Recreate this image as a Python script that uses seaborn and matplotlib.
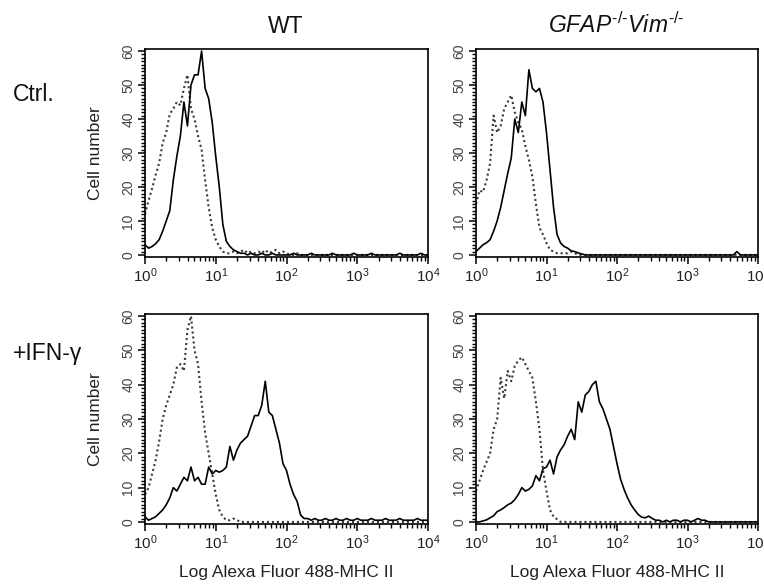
import numpy as np
import pandas as pd
import matplotlib
matplotlib.use("Agg")
import matplotlib.pyplot as plt
import seaborn as sns

# ---------------- data ----------------
# channel positions, log10 of fluorescence (10^0 .. 10^4)
LOG_CH = [0.00, 0.05, 0.10, 0.15, 0.20, 0.25, 0.30, 0.35, 0.40, 0.45,
          0.50, 0.55, 0.60, 0.65, 0.70, 0.75, 0.80, 0.85, 0.90, 0.95,
          1.00, 1.05, 1.10, 1.15, 1.20, 1.25, 1.30, 1.35, 1.40, 1.45,
          1.50, 1.55, 1.60, 1.65, 1.70, 1.75, 1.80, 1.85, 1.90, 1.95,
          2.00, 2.05, 2.10, 2.15, 2.20, 2.25, 2.30, 2.35, 2.40, 2.45,
          2.50, 2.55, 2.60, 2.65, 2.70, 2.75, 2.80, 2.85, 2.90, 2.95,
          3.00, 3.05, 3.10, 3.15, 3.20, 3.25, 3.30, 3.35, 3.40, 3.45,
          3.50, 3.55, 3.60, 3.65, 3.70, 3.75, 3.80, 3.85, 3.90, 3.95,
          4.00]

wt_ctrl_mhc = [3, 2, 2.5, 3.3, 4.5, 7, 10, 13, 22, 29,
               35, 45, 38, 50, 53, 53, 60, 49, 46, 39,
               29, 20, 9, 4, 2.5, 1.5, 1, 0.5, 0.5, 0,
               0.5, 0, 0, 0.5, 0, 0, 0.5, 0, 0, 0,
               0, 0, 0.5, 0, 0, 0, 0, 0.5, 0, 0,
               0, 0, 0, 0.5, 0, 0, 0, 0, 0, 0.5,
               0, 0, 0, 0, 0.5, 0, 0, 0, 0, 0,
               0, 0, 0.5, 0, 0, 0, 0, 0, 0.5, 0,
               0]
wt_ctrl_iso = [12, 16, 19.5, 23.5, 27, 33, 36, 41.5, 43, 45,
               44, 49, 53, 43, 40, 35, 31, 22, 14, 8,
               4.5, 2.5, 1, 0.5, 0.5, 1, 0.5, 1, 1.5, 0.5,
               1, 0.5, 1, 0.5, 1.5, 0.5, 1, 1.5, 0.5, 1,
               0.5, 0, 0, 0.5, 0, 0, 0, 0, 0, 0,
               0, 0, 0, 0, 0, 0, 0, 0, 0, 0,
               0, 0, 0, 0, 0, 0, 0, 0, 0, 0,
               0, 0, 0, 0, 0, 0, 0, 0, 0, 0,
               0]
ko_ctrl_mhc = [1, 2, 3, 3.6, 4.5, 7, 10, 14, 19, 24,
               28.5, 40, 36, 45, 41, 54.5, 49, 48, 49, 45,
               36, 25, 14, 6, 3.5, 2.5, 2, 1.2, 1, 0.6,
               0.3, 0, 0, 0, 0, 0, 0, 0, 0, 0,
               0, 0, 0, 0, 0, 0, 0, 0, 0, 0,
               0, 0, 0, 0, 0, 0, 0, 0, 0, 0,
               0, 0, 0, 0, 0, 0, 0, 0, 0, 0,
               0, 0, 0, 0, 1, 0, 0, 0, 0, 0,
               0]
ko_ctrl_iso = [15, 19, 18.5, 22, 27, 41, 36, 38, 43, 45,
               47, 42, 39, 37, 32, 28, 23, 15, 8, 6,
               3.5, 1.5, 1, 0.5, 0.5, 0.5, 0.5, 1, 0.5, 0,
               0, 0, 0, 0, 0, 0, 0, 0, 0, 0,
               0, 0, 0, 0, 0, 0, 0, 0, 0, 0,
               0, 0, 0, 0, 0, 0, 0, 0, 0, 0,
               0, 0, 0, 0, 0, 0, 0, 0, 0, 0,
               0, 0, 0, 0, 0, 0, 0, 0, 0, 0,
               0]
wt_ifn_mhc = [1.5, 0.5, 1, 1.5, 2.5, 3.5, 5, 7, 10, 9,
              11, 13, 12, 16, 12, 13, 11, 11, 16, 14,
              15, 14.5, 15, 16, 22, 18, 21, 23, 24, 25,
              28, 31, 31, 34, 41, 32, 31, 27, 23, 17,
              15, 11, 8, 6, 2, 1, 1, 0.5, 1, 0.5,
              0.5, 1, 0.5, 0.5, 1, 0.5, 0.5, 1, 0.5, 0.5,
              1, 0.5, 0.5, 0.5, 1, 0.5, 0.5, 0.5, 1, 0.5,
              0.5, 0.5, 1, 0.5, 0.5, 0.5, 0.5, 1, 0.5, 0.5,
              0.5]
wt_ifn_iso = [8, 10, 14, 18, 23.5, 30, 34, 37, 40, 45,
              46, 44, 56, 60, 50, 46, 35, 26, 20, 14,
              8, 3.5, 1.5, 0.5, 0.5, 1, 0.5, 0, 0, 0,
              0, 0, 0, 0, 0, 0, 0, 0, 0, 0,
              0, 0, 0, 0, 0, 0, 0, 0, 0, 0,
              0, 0, 0, 0, 0, 0, 0, 0, 0, 0,
              0, 0, 0, 0, 0, 0, 0, 0, 0, 0,
              0, 0, 0, 0, 0, 0, 0, 0, 0, 0,
              0]
ko_ifn_mhc = [0, 0, 0.3, 0.6, 1.2, 1.8, 3, 3.5, 4.2, 5,
              5.5, 6.5, 8, 10, 9, 9.5, 10.5, 13.5, 12, 15.5,
              16, 18, 14, 19, 21, 22.5, 25, 27, 24, 35,
              32, 37, 38, 40, 41, 35, 33, 30, 27, 22,
              17, 12.5, 9.5, 7, 5, 3.5, 2.2, 1.4, 1.2, 1.7,
              1, 0.5, 0.5, 0, 0.5, 0, 0.5, 0.5, 0, 0.5,
              0.5, 0, 0.5, 1, 0.5, 0.5, 0, 0, 0, 0,
              0, 0, 0, 0, 0, 0, 0, 0, 0, 0,
              0]
ko_ifn_iso = [9, 12, 15, 17.5, 20, 27, 30, 42, 36, 44,
              41, 45.5, 47, 48, 46, 44, 42, 35, 27, 15,
              9, 3.5, 1.5, 0.8, 0, 0, 0, 0, 0, 0,
              0, 0, 0, 0, 0, 0, 0, 0, 0, 0,
              0, 0, 0, 0, 0, 0, 0, 0, 0, 0,
              0, 0, 0, 0, 0, 0, 0, 0, 0, 0,
              0, 0, 0, 0, 0, 0, 0, 0, 0, 0,
              0, 0, 0, 0, 0, 0, 0, 0, 0, 0,
              0]

COL_TITLES = ["WT", r"$\mathit{GFAP}^{\mathit{\text{-/-}}}\mathit{Vim}^{\mathit{\text{-/-}}}$"]
ROW_LABELS = ["Ctrl.", "+IFN-\u03b3"]
Y_TICKS = [0, 10, 20, 30, 40, 50, 60]
X_TICKS = [1, 10, 100, 1000, 10000]
XLABEL = "Log Alexa Fluor 488-MHC II"
YLABEL = "Cell number"

panels = [[(wt_ctrl_mhc, wt_ctrl_iso), (ko_ctrl_mhc, ko_ctrl_iso)],
          [(wt_ifn_mhc, wt_ifn_iso), (ko_ifn_mhc, ko_ifn_iso)]]

# ---------------- style ----------------
sns.set_theme(style="white")
plt.rcParams["font.family"] = ["Liberation Sans", "DejaVu Sans"]
plt.rcParams["mathtext.fontset"] = "custom"
plt.rcParams["mathtext.rm"] = "Liberation Sans"
plt.rcParams["mathtext.it"] = "Liberation Sans:italic"
plt.rcParams["mathtext.bf"] = "Liberation Sans:bold"

W, H = 764, 584
fig = plt.figure(figsize=(W / 100, H / 100), dpi=100)

col_left = [145, 476]
col_w = [283, 282]
row_top = [49, 314]
row_bot = [257, 524]

x_vals = 10 ** np.array(LOG_CH)

for r in range(2):
    for c in range(2):
        ax = fig.add_axes([col_left[c] / W, 1 - row_bot[r] / H,
                           col_w[c] / W, (row_bot[r] - row_top[r]) / H])
        mhc, iso = panels[r][c]
        df = pd.DataFrame({"fluor": x_vals, "mhc": mhc, "iso": iso})
        sns.lineplot(data=df, x="fluor", y="iso", ax=ax, color="#3a3a3a",
                     lw=1.5, linestyle=(0, (1.0, 1.4)), estimator=None)
        sns.lineplot(data=df, x="fluor", y="mhc", ax=ax, color="black",
                     lw=1.2, estimator=None)
        ax.set_xscale("log")
        ax.set_xlim(1, 1e4)
        ax.set_ylim(-0.6, 60.6)
        ax.set_xticks(X_TICKS)
        ax.set_yticks(Y_TICKS)
        ax.yaxis.set_minor_locator(matplotlib.ticker.MultipleLocator(1))
        ax.xaxis.set_minor_locator(matplotlib.ticker.LogLocator(base=10, subs=np.arange(2, 10)))
        ax.xaxis.set_minor_formatter(matplotlib.ticker.NullFormatter())
        ax.tick_params(axis="both", which="major", direction="out", length=5,
                       width=1.1, color="black", bottom=True, left=True)
        ax.tick_params(axis="both", which="minor", direction="out", length=3,
                       width=1.0, color="black", bottom=True, left=True)
        ax.tick_params(axis="x", labelsize=11, pad=2, labelcolor="#222222")
        ax.tick_params(axis="y", labelsize=10, pad=2, labelcolor="#444444")
        for lab in ax.get_yticklabels():
            lab.set_rotation(90)
            lab.set_va("center")
        for s in ax.spines.values():
            s.set_visible(True)
            s.set_color("black")
            s.set_linewidth(1.2)
        ax.set_xlabel("")
        if c == 0:
            ax.set_ylabel(YLABEL, fontsize=12.5, color="#222222")
            ax.yaxis.set_label_coords(-0.148, 0.5)
        else:
            ax.set_ylabel("")

# column titles
fig.text(286 / W, 1 - 33 / H, COL_TITLES[0], ha="center", va="baseline",
         fontsize=16.5, color="#111111")
fig.text(616 / W, 1 - 33 / H, COL_TITLES[1], ha="center", va="baseline",
         fontsize=16.5, color="#111111")
# row labels
fig.text(13 / W, 1 - 101 / H, ROW_LABELS[0], ha="left", va="baseline",
         fontsize=16.5, color="#111111")
fig.text(13 / W, 1 - 360 / H, ROW_LABELS[1], ha="left", va="baseline",
         fontsize=16.5, color="#111111")
# x labels
for c in range(2):
    fig.text((col_left[c] + col_w[c] / 2) / W, 1 - 572 / H, XLABEL,
             ha="center", va="center", fontsize=12.5, color="#222222")

fig.savefig("out.png", dpi=100, facecolor="white")
